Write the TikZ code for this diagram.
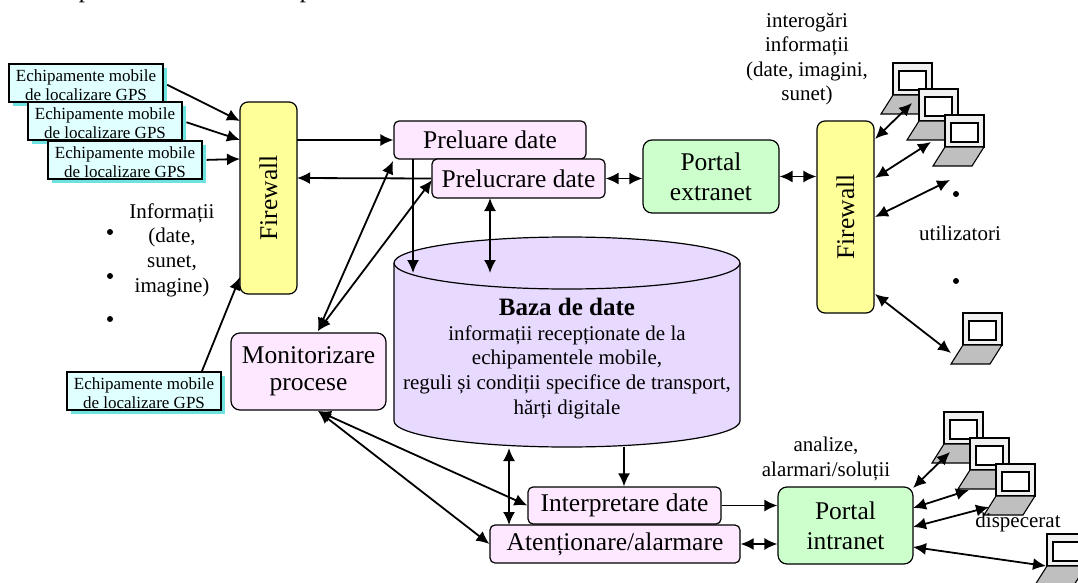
\documentclass[tikz,border=0pt]{standalone}
\usepackage{fontspec}
\setmainfont{Liberation Serif}
\usepackage{tikz}
\usetikzlibrary{arrows.meta}

\definecolor{devfill}{RGB}{224,255,255}
\definecolor{devshade}{RGB}{110,225,225}
\definecolor{fwfill}{RGB}{255,255,153}
\definecolor{procfill}{RGB}{253,232,255}
\definecolor{portalfill}{RGB}{204,255,204}
\definecolor{dbfill}{RGB}{232,218,255}

\newcommand{\gpslabel}{\raisebox{-8.5pt}[0pt][0pt]{\begin{tabular}{@{}c@{}}Echipamente mobile\\de localizare GPS\end{tabular}}}

\tikzset{
  >={Latex[width=12pt,length=13pt]},
  con/.style={line width=1.8pt},
  dev/.style={draw=black,line width=1.3pt,fill=devfill,minimum width=154pt,minimum height=38pt,inner sep=0pt,font=\fontsize{17}{19.5}\selectfont},
  devshadow/.style={fill=devshade,draw=none,minimum width=154pt,minimum height=38pt},
  firewall/.style={draw=black,line width=1.2pt,fill=fwfill,rounded corners=8pt,minimum width=192pt,minimum height=57pt,inner sep=0pt,rotate=90,font=\fontsize{25.5}{27}\selectfont},
  proc/.style={draw=black,line width=1.2pt,fill=procfill,rounded corners=5pt,inner sep=0pt,align=center,font=\fontsize{25.5}{27}\selectfont},
  portal/.style={draw=black,line width=1.2pt,fill=portalfill,rounded corners=9pt,inner sep=0pt,align=center,font=\fontsize{25.5}{30}\selectfont},
  txt/.style={inner sep=0pt,align=center,font=\fontsize{21}{24.6}\selectfont},
  bullet/.style={circle,fill=black,inner sep=0pt,minimum size=6pt},
  pics/laptop/.style={code={
    \draw[line width=1.1pt,fill=black!6] (0,0) rectangle (39,32);
    \draw[line width=1.1pt,fill=white] (6,8) rectangle (33,27);
    \draw[line width=1.1pt,fill=black!25] (0,32) -- (39,32) -- (27,51) -- (-12,51) -- cycle;
  }}
}

\begin{document}
\begin{tikzpicture}[x=1pt,y=-1pt]
\useasboundingbox (0,0) rectangle (1078,583);

% tails of the line above, cut by the page edge
\begin{scope}
\clip (0,0) rectangle (1078,583);
\node[inner sep=0pt,anchor=base,font=\fontsize{25}{27}\selectfont] (cut1) at (85,-2) {p};
\node[inner sep=0pt,anchor=base,font=\fontsize{25}{27}\selectfont] (cut2) at (306,-2) {p};
\end{scope}

% laptops
\pic at (893,63) {laptop};
\pic at (919,89) {laptop};
\pic at (945,115) {laptop};
\pic at (963,313) {laptop};
\pic at (944,412) {laptop};
\pic at (970,438) {laptop};
\pic at (996,464) {laptop};
\pic at (1047,534) {laptop};

% mobile devices
\node[devshadow] (s1) at (90,87) {};
\node[dev] (d1) at (86,83) {\gpslabel};
\node[devshadow] (s2) at (109,125) {};
\node[dev] (d2) at (105,121) {\gpslabel};
\node[devshadow] (s3) at (129,164) {};
\node[dev] (d3) at (125,160) {\gpslabel};
\node[devshadow] (s4) at (148,395) {};
\node[dev] (d4) at (144,391) {\gpslabel};

% main blocks
\node[firewall] (fw1) at (268.5,198) {Firewall};
\node[firewall] (fw2) at (845.5,217) {Firewall};
\node[proc,minimum width=192pt,minimum height=38pt] (preluare) at (490,140) {Preluare date};
\node[proc,minimum width=173pt,minimum height=39pt] (prelucrare) at (518.5,178.5) {Prelucrare date};
\node[portal,minimum width=136pt,minimum height=73pt] (extranet) at (711,176.5) {Portal\\extranet};
\node[portal,minimum width=135pt,minimum height=77pt] (intranet) at (845.5,525.5) {Portal\\intranet};
\node[proc,minimum width=155pt,minimum height=77pt,rounded corners=9pt] (monitor) at (308.5,371.5) {Monitorizare\\procese};
\node[proc,minimum width=193pt,minimum height=37pt] (interp) at (624.5,505.5) {Interpretare date};
\node[proc,minimum width=250pt,minimum height=38pt] (atent) at (615,544) {Atenționare/alarmare};

% database
\draw[line width=1.2pt,fill=dbfill] (394,263) -- (394,421) arc[start angle=180,end angle=0,x radius=173,y radius=26] -- (740,263);
\draw[line width=1.2pt,fill=dbfill] (567,263) ellipse[x radius=173,y radius=26];
\node[txt] (db) at (567,358.5) {{\fontsize{25}{27}\selectfont\textbf{Baza de date}}\\informații recepționate de la\\echipamentele mobile,\\reguli și condiții specifice de transport,\\hărți digitale};

% texts
\node[txt] (t1) at (807,59) {interogări\\informații\\(date, imagini,\\sunet)};
\node[txt] (t2) at (172,250) {Informații\\(date,\\sunet,\\imagine)};
\node[txt] (t3) at (960,233) {utilizatori};
\node[txt] (t4) at (826,459) {analize,\\alarmari/soluții};
\node[txt] (t5) at (1018,522) {dispecerat};
\node[bullet] (b1) at (110,232) {};
\node[bullet] (b2) at (110,276) {};
\node[bullet] (b3) at (110,319) {};
\node[bullet] (b4) at (956,194) {};
\node[bullet] (b5) at (956,281) {};

% free ends
\coordinate (fa) at (240,121);
\coordinate (fb) at (240,140);
\coordinate (fc) at (240,159);
\coordinate (fd) at (240,277);
\coordinate (fe) at (297,140);
\coordinate (ff) at (297,178);
\coordinate (da) at (202,371);
\coordinate (pa) at (413,159);
\coordinate (pb) at (393,161);
\coordinate (pc) at (432,180);
\coordinate (pd) at (490,198);
\coordinate (ma) at (318,331);
\coordinate (mb) at (318,411);
\coordinate (dba) at (413,273);
\coordinate (dbb) at (490,273);
\coordinate (dbc) at (509,448);
\coordinate (dbd) at (624,447);
\coordinate (aa) at (509,525);
\coordinate (ga) at (875,139);
\coordinate (gb) at (875,178);
\coordinate (gc) at (875,217);
\coordinate (gd) at (875,294);
\coordinate (ia) at (913,488);
\coordinate (ib) at (913,508);
\coordinate (ic) at (913,527);
\coordinate (id) at (913,547);
\coordinate (l1) at (912,103);
\coordinate (l2) at (931,142);
\coordinate (l3) at (950,180);
\coordinate (l4) at (951,353);
\coordinate (l5) at (950,452);
\coordinate (l6) at (969,490);
\coordinate (l7) at (989,507);
\coordinate (l8) at (1046,566);

% connectors
\draw [->,con,shorten <=4pt] (d1.east) -- (fa);
\draw [->,con,shorten <=4pt] (d2.east) -- (fb);
\draw [->,con,shorten <=4pt] (d3.east) -- (fc);
\draw [->,con] (da) -- (fd);
\draw [->,con] (fe) -- (preluare.west);
\draw [->,con] (prelucrare.west) -- (ff);
\draw [<->,con] (ma) -- (pb);
\draw [<->,con] (ma) -- (pc);
\draw [->,con] (pa) -- (dba);
\draw [<->,con] (pd) -- (dbb);
\draw [<->,con] (prelucrare.east) -- (extranet.west |- prelucrare.east);
\draw [<->,con] (extranet.east) -- (fw2.north |- extranet.east);
\draw [<->,con] (ga) -- (l1);
\draw [<->,con] (gb) -- (l2);
\draw [<->,con] (gc) -- (l3);
\draw [<->,con] (gd) -- (l4);
\draw [->,con] (dbd) -- (interp.north -| dbd);
\draw [<->,con] (dbc) -- (aa);
\draw [<->,con] (mb) -- (interp.west);
\draw [<->,con] (mb) -- (atent.west);
\draw [->,con] (interp.east) -- (intranet.west |- interp.east);
\draw [<->,con] (atent.east) -- (intranet.west |- atent.east);
\draw [<->,con] (ia) -- (l5);
\draw [<->,con] (ib) -- (l6);
\draw [<->,con] (ic) -- (l7);
\draw [<->,con] (id) -- (l8);
\end{tikzpicture}
\end{document}
